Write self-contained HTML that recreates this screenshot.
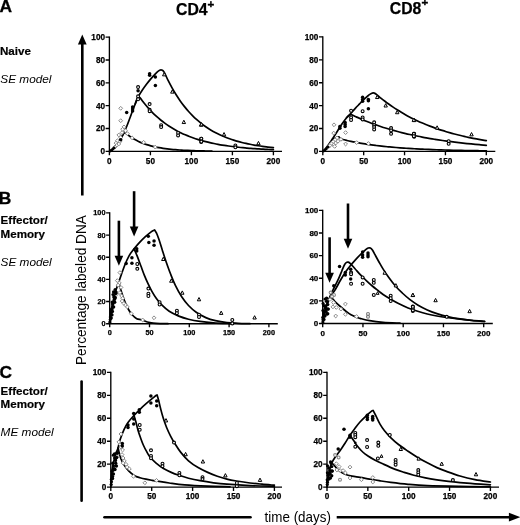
<!DOCTYPE html>
<html><head><meta charset="utf-8"><title>Figure</title>
<style>
html,body{margin:0;padding:0;background:#fff;}
body{width:520px;height:525px;overflow:hidden;font-family:"Liberation Sans",sans-serif;}
svg{display:block;will-change:transform;transform:translateZ(0);}
text{font-family:"Liberation Sans",sans-serif;fill:#000;}
.tl{font-weight:bold;stroke:#000;stroke-width:0.25px;}
.pl{font-size:17.4px;font-weight:bold;stroke:#000;stroke-width:0.3px;}
.rl{font-size:11.6px;font-weight:bold;stroke:#000;stroke-width:0.2px;}
.ml{font-size:11.8px;font-style:italic;}
.ct{font-size:15.8px;font-weight:bold;stroke:#000;stroke-width:0.25px;}
.al{font-size:14.2px;}
</style></head><body>
<svg width="520" height="525" viewBox="0 0 520 525">
<rect width="520" height="525" fill="#fff"/>
<text x="-0.5" y="12.4" class="pl">A</text>
<text x="-1.2" y="203.6" class="pl">B</text>
<text x="-0.6" y="378.4" class="pl">C</text>
<text x="0" y="55.1" class="rl">Naive</text>
<text x="0.3" y="83.4" class="ml">SE model</text>
<text x="0.6" y="224.0" class="rl">Effector/</text>
<text x="0.6" y="237.8" class="rl">Memory</text>
<text x="0.6" y="265.9" class="ml">SE model</text>
<text x="0.6" y="394.5" class="rl">Effector/</text>
<text x="0.6" y="408.2" class="rl">Memory</text>
<text x="0.6" y="436.4" class="ml">ME model</text>
<text x="176" y="14.9" class="ct">CD4<tspan dy="-7.0" font-size="11.5" stroke="#000" stroke-width="0.35">+</tspan></text>
<text x="389.8" y="13.8" class="ct">CD8<tspan dy="-7.9" font-size="11.5" stroke="#000" stroke-width="0.35">+</tspan></text>
<text transform="translate(85.8 365.0) rotate(-90)" class="al" textLength="149.8" lengthAdjust="spacingAndGlyphs">Percentage labeled DNA</text>
<text x="264.6" y="522" class="al" textLength="66.3" lengthAdjust="spacingAndGlyphs">time (days)</text>
<path d="M82.3 43 V195.5" stroke="#000" stroke-width="2.6" fill="none"/>
<path d="M77.9 44.6 L86.7 44.6 L82.3 34.4 Z" fill="#000"/>
<path d="M81.6 381.5 V500.8" stroke="#000" stroke-width="2.6" fill="none" stroke-linecap="round"/>
<path d="M104.5 517.3 H250.5" stroke="#000" stroke-width="2.6" fill="none" stroke-linecap="round"/>
<path d="M336.7 517.2 H510" stroke="#000" stroke-width="2.6" fill="none"/>
<path d="M508.9 512.8 L508.9 521.6 L520.2 517.2 Z" fill="#000"/>
<path d="M109.40 36.43 V151.40 H282.00" fill="none" stroke="#000" stroke-width="1.35" stroke-linejoin="miter"/>
<path d="M105.60 151.40 H109.40M105.60 128.54 H109.40M105.60 105.68 H109.40M105.60 82.82 H109.40M105.60 59.96 H109.40M105.60 37.10 H109.40M109.40 151.40 V155.20M150.40 151.40 V155.20M191.40 151.40 V155.20M232.40 151.40 V155.20M273.40 151.40 V155.20" fill="none" stroke="#000" stroke-width="1.35"/>
<text x="105.00" y="154.30" text-anchor="end" class="tl" font-size="8.20">0</text>
<text x="105.00" y="131.44" text-anchor="end" class="tl" font-size="8.20">20</text>
<text x="105.00" y="108.58" text-anchor="end" class="tl" font-size="8.20">40</text>
<text x="105.00" y="85.72" text-anchor="end" class="tl" font-size="8.20">60</text>
<text x="105.00" y="62.86" text-anchor="end" class="tl" font-size="8.20">80</text>
<text x="105.00" y="40.00" text-anchor="end" class="tl" font-size="8.20">100</text>
<text x="109.40" y="163.70" text-anchor="middle" class="tl" font-size="8.20">0</text>
<text x="150.40" y="163.70" text-anchor="middle" class="tl" font-size="8.20">50</text>
<text x="191.40" y="163.70" text-anchor="middle" class="tl" font-size="8.20">100</text>
<text x="232.40" y="163.70" text-anchor="middle" class="tl" font-size="8.20">150</text>
<text x="273.40" y="163.70" text-anchor="middle" class="tl" font-size="8.20">200</text>
<path d="M322.80 36.23 V151.40 H495.30" fill="none" stroke="#000" stroke-width="1.35" stroke-linejoin="miter"/>
<path d="M319.00 151.40 H322.80M319.00 128.50 H322.80M319.00 105.60 H322.80M319.00 82.70 H322.80M319.00 59.80 H322.80M319.00 36.90 H322.80M322.80 151.40 V155.20M363.68 151.40 V155.20M404.55 151.40 V155.20M445.43 151.40 V155.20M486.30 151.40 V155.20" fill="none" stroke="#000" stroke-width="1.35"/>
<text x="318.40" y="154.30" text-anchor="end" class="tl" font-size="8.20">0</text>
<text x="318.40" y="131.40" text-anchor="end" class="tl" font-size="8.20">20</text>
<text x="318.40" y="108.50" text-anchor="end" class="tl" font-size="8.20">40</text>
<text x="318.40" y="85.60" text-anchor="end" class="tl" font-size="8.20">60</text>
<text x="318.40" y="62.70" text-anchor="end" class="tl" font-size="8.20">80</text>
<text x="318.40" y="39.80" text-anchor="end" class="tl" font-size="8.20">100</text>
<text x="322.80" y="163.70" text-anchor="middle" class="tl" font-size="8.20">0</text>
<text x="363.68" y="163.70" text-anchor="middle" class="tl" font-size="8.20">50</text>
<text x="404.55" y="163.70" text-anchor="middle" class="tl" font-size="8.20">100</text>
<text x="445.43" y="163.70" text-anchor="middle" class="tl" font-size="8.20">150</text>
<text x="486.30" y="163.70" text-anchor="middle" class="tl" font-size="8.20">200</text>
<path d="M109.70 212.22 V323.70 H277.80" fill="none" stroke="#000" stroke-width="1.35" stroke-linejoin="miter"/>
<path d="M106.10 323.70 H109.70M106.10 301.54 H109.70M106.10 279.38 H109.70M106.10 257.22 H109.70M106.10 235.06 H109.70M106.10 212.90 H109.70M109.70 323.70 V327.30M149.50 323.70 V327.30M189.30 323.70 V327.30M229.10 323.70 V327.30M268.90 323.70 V327.30" fill="none" stroke="#000" stroke-width="1.35"/>
<text x="105.50" y="326.28" text-anchor="end" class="tl" font-size="7.30">0</text>
<text x="105.50" y="304.12" text-anchor="end" class="tl" font-size="7.30">20</text>
<text x="105.50" y="281.96" text-anchor="end" class="tl" font-size="7.30">40</text>
<text x="105.50" y="259.80" text-anchor="end" class="tl" font-size="7.30">60</text>
<text x="105.50" y="237.64" text-anchor="end" class="tl" font-size="7.30">80</text>
<text x="105.50" y="215.48" text-anchor="end" class="tl" font-size="7.30">100</text>
<text x="109.70" y="335.36" text-anchor="middle" class="tl" font-size="7.30">0</text>
<text x="149.50" y="335.36" text-anchor="middle" class="tl" font-size="7.30">50</text>
<text x="189.30" y="335.36" text-anchor="middle" class="tl" font-size="7.30">100</text>
<text x="229.10" y="335.36" text-anchor="middle" class="tl" font-size="7.30">150</text>
<text x="268.90" y="335.36" text-anchor="middle" class="tl" font-size="7.30">200</text>
<path d="M322.70 209.72 V323.50 H492.80" fill="none" stroke="#000" stroke-width="1.35" stroke-linejoin="miter"/>
<path d="M318.90 323.50 H322.70M318.90 300.88 H322.70M318.90 278.26 H322.70M318.90 255.64 H322.70M318.90 233.02 H322.70M318.90 210.40 H322.70M322.70 323.50 V327.30M362.95 323.50 V327.30M403.20 323.50 V327.30M443.45 323.50 V327.30M483.70 323.50 V327.30" fill="none" stroke="#000" stroke-width="1.35"/>
<text x="318.30" y="326.33" text-anchor="end" class="tl" font-size="8.00">0</text>
<text x="318.30" y="303.71" text-anchor="end" class="tl" font-size="8.00">20</text>
<text x="318.30" y="281.09" text-anchor="end" class="tl" font-size="8.00">40</text>
<text x="318.30" y="258.47" text-anchor="end" class="tl" font-size="8.00">60</text>
<text x="318.30" y="235.85" text-anchor="end" class="tl" font-size="8.00">80</text>
<text x="318.30" y="213.23" text-anchor="end" class="tl" font-size="8.00">100</text>
<text x="322.70" y="335.66" text-anchor="middle" class="tl" font-size="8.00">0</text>
<text x="362.95" y="335.66" text-anchor="middle" class="tl" font-size="8.00">50</text>
<text x="403.20" y="335.66" text-anchor="middle" class="tl" font-size="8.00">100</text>
<text x="443.45" y="335.66" text-anchor="middle" class="tl" font-size="8.00">150</text>
<text x="483.70" y="335.66" text-anchor="middle" class="tl" font-size="8.00">200</text>
<path d="M110.80 371.73 V487.10 H282.00" fill="none" stroke="#000" stroke-width="1.35" stroke-linejoin="miter"/>
<path d="M107.00 487.10 H110.80M107.00 464.16 H110.80M107.00 441.22 H110.80M107.00 418.28 H110.80M107.00 395.34 H110.80M107.00 372.40 H110.80M110.80 487.10 V490.90M151.70 487.10 V490.90M192.60 487.10 V490.90M233.50 487.10 V490.90M274.40 487.10 V490.90" fill="none" stroke="#000" stroke-width="1.35"/>
<text x="106.40" y="490.00" text-anchor="end" class="tl" font-size="8.20">0</text>
<text x="106.40" y="467.06" text-anchor="end" class="tl" font-size="8.20">20</text>
<text x="106.40" y="444.12" text-anchor="end" class="tl" font-size="8.20">40</text>
<text x="106.40" y="421.18" text-anchor="end" class="tl" font-size="8.20">60</text>
<text x="106.40" y="398.24" text-anchor="end" class="tl" font-size="8.20">80</text>
<text x="106.40" y="375.30" text-anchor="end" class="tl" font-size="8.20">100</text>
<text x="110.80" y="499.40" text-anchor="middle" class="tl" font-size="8.20">0</text>
<text x="151.70" y="499.40" text-anchor="middle" class="tl" font-size="8.20">50</text>
<text x="192.60" y="499.40" text-anchor="middle" class="tl" font-size="8.20">100</text>
<text x="233.50" y="499.40" text-anchor="middle" class="tl" font-size="8.20">150</text>
<text x="274.40" y="499.40" text-anchor="middle" class="tl" font-size="8.20">200</text>
<path d="M327.00 371.73 V487.10 H499.00" fill="none" stroke="#000" stroke-width="1.35" stroke-linejoin="miter"/>
<path d="M323.20 487.10 H327.00M323.20 464.16 H327.00M323.20 441.22 H327.00M323.20 418.28 H327.00M323.20 395.34 H327.00M323.20 372.40 H327.00M327.00 487.10 V490.90M367.85 487.10 V490.90M408.70 487.10 V490.90M449.55 487.10 V490.90M490.40 487.10 V490.90" fill="none" stroke="#000" stroke-width="1.35"/>
<text x="322.60" y="490.00" text-anchor="end" class="tl" font-size="8.20">0</text>
<text x="322.60" y="467.06" text-anchor="end" class="tl" font-size="8.20">20</text>
<text x="322.60" y="444.12" text-anchor="end" class="tl" font-size="8.20">40</text>
<text x="322.60" y="421.18" text-anchor="end" class="tl" font-size="8.20">60</text>
<text x="322.60" y="398.24" text-anchor="end" class="tl" font-size="8.20">80</text>
<text x="322.60" y="375.30" text-anchor="end" class="tl" font-size="8.20">100</text>
<text x="327.00" y="499.40" text-anchor="middle" class="tl" font-size="8.20">0</text>
<text x="367.85" y="499.40" text-anchor="middle" class="tl" font-size="8.20">50</text>
<text x="408.70" y="499.40" text-anchor="middle" class="tl" font-size="8.20">100</text>
<text x="449.55" y="499.40" text-anchor="middle" class="tl" font-size="8.20">150</text>
<text x="490.40" y="499.40" text-anchor="middle" class="tl" font-size="8.20">200</text>
<path d="M118.90 220.70 V256.80" stroke="#000" stroke-width="2.60" fill="none"/>
<path d="M114.60 255.80 L123.20 255.80 L118.90 265.80 Z" fill="#000"/>
<path d="M134.10 191.20 V227.50" stroke="#000" stroke-width="2.60" fill="none"/>
<path d="M129.80 226.50 L138.40 226.50 L134.10 236.50 Z" fill="#000"/>
<path d="M329.60 237.30 V273.80" stroke="#000" stroke-width="2.60" fill="none"/>
<path d="M325.30 272.80 L333.90 272.80 L329.60 282.80 Z" fill="#000"/>
<path d="M348.00 203.50 V239.80" stroke="#000" stroke-width="2.60" fill="none"/>
<path d="M343.70 238.80 L352.30 238.80 L348.00 248.80 Z" fill="#000"/>
<path d="M109.40 151.40 C109.67 151.23 110.51 150.79 111.04 150.37 C111.57 149.95 112.05 149.42 112.60 148.89 C113.14 148.35 113.69 147.86 114.32 147.17 C114.95 146.49 115.62 145.70 116.37 144.77 C117.12 143.84 118.02 142.68 118.83 141.57 C119.64 140.47 120.35 139.63 121.21 138.14 C122.07 136.66 123.05 134.67 124.00 132.65 C124.94 130.64 125.90 128.43 126.87 126.03 C127.84 123.63 128.86 120.81 129.82 118.25 C130.77 115.70 131.70 113.09 132.61 110.71 C133.51 108.33 134.23 106.38 135.23 103.97 C136.23 101.55 137.43 98.48 138.59 96.19 C139.75 93.91 140.92 92.19 142.20 90.25 C143.48 88.31 144.93 86.34 146.30 84.53 C147.67 82.72 149.03 81.01 150.40 79.39 C151.77 77.77 153.34 76.08 154.50 74.82 C155.66 73.56 156.51 72.61 157.37 71.85 C158.23 71.09 158.97 70.55 159.67 70.25 C160.36 69.94 160.83 69.75 161.55 70.02 C162.28 70.29 162.92 70.10 164.01 71.85 C165.11 73.59 166.75 77.77 168.11 80.49 C169.48 83.21 170.85 85.76 172.21 88.19 C173.58 90.62 174.95 92.89 176.31 95.06 C177.68 97.22 179.05 99.25 180.41 101.18 C181.78 103.11 183.15 104.92 184.51 106.64 C185.88 108.36 187.25 109.97 188.61 111.50 C189.98 113.03 191.35 114.47 192.71 115.83 C194.08 117.20 195.45 118.48 196.81 119.70 C198.18 120.91 199.55 122.06 200.91 123.14 C202.28 124.23 203.65 125.24 205.01 126.21 C206.38 127.18 207.75 128.08 209.11 128.95 C210.48 129.81 211.85 130.62 213.21 131.39 C214.58 132.16 215.95 132.88 217.31 133.56 C218.68 134.25 220.05 134.89 221.41 135.50 C222.78 136.11 224.15 136.68 225.51 137.23 C226.88 137.77 228.25 138.28 229.61 138.77 C230.98 139.25 232.35 139.71 233.71 140.14 C235.08 140.57 236.45 140.98 237.81 141.36 C239.18 141.75 240.55 142.11 241.91 142.45 C243.28 142.80 244.65 143.12 246.01 143.42 C247.38 143.73 248.75 144.02 250.11 144.29 C251.48 144.56 252.85 144.82 254.21 145.06 C255.58 145.31 256.95 145.53 258.31 145.75 C259.68 145.97 261.05 146.17 262.41 146.36 C263.78 146.56 265.15 146.74 266.51 146.91 C267.88 147.08 269.46 147.27 270.61 147.40 C271.76 147.53 272.94 147.65 273.40 147.70" fill="none" stroke="#000" stroke-width="1.70" stroke-linejoin="round" stroke-linecap="round"/>
<path d="M135.23 103.97 C135.57 102.99 136.69 99.26 137.28 98.14 C137.87 97.01 138.28 97.26 138.76 97.22 C139.23 97.18 139.23 96.89 140.15 97.91 C141.07 98.92 142.88 101.60 144.25 103.31 C145.62 105.02 146.98 106.63 148.35 108.17 C149.72 109.71 151.08 111.15 152.45 112.54 C153.82 113.92 155.18 115.22 156.55 116.46 C157.92 117.71 159.28 118.88 160.65 119.99 C162.02 121.11 163.38 122.16 164.75 123.17 C166.12 124.17 167.48 125.12 168.85 126.02 C170.22 126.92 171.58 127.77 172.95 128.58 C174.32 129.39 175.68 130.16 177.05 130.89 C178.42 131.62 179.78 132.30 181.15 132.96 C182.52 133.62 183.88 134.23 185.25 134.82 C186.62 135.41 187.98 135.97 189.35 136.50 C190.72 137.03 192.08 137.53 193.45 138.00 C194.82 138.48 196.18 138.93 197.55 139.36 C198.92 139.78 200.28 140.19 201.65 140.57 C203.02 140.96 204.38 141.32 205.75 141.67 C207.12 142.01 208.48 142.34 209.85 142.65 C211.22 142.96 212.58 143.25 213.95 143.53 C215.32 143.81 216.68 144.08 218.05 144.33 C219.42 144.58 220.78 144.82 222.15 145.04 C223.52 145.27 224.88 145.48 226.25 145.69 C227.62 145.89 228.98 146.08 230.35 146.26 C231.72 146.45 233.08 146.62 234.45 146.78 C235.82 146.95 237.18 147.10 238.55 147.25 C239.92 147.40 241.28 147.53 242.65 147.67 C244.02 147.80 245.38 147.93 246.75 148.04 C248.12 148.16 249.48 148.28 250.85 148.38 C252.22 148.49 253.58 148.59 254.95 148.69 C256.32 148.78 257.68 148.88 259.05 148.96 C260.42 149.05 261.78 149.13 263.15 149.21 C264.52 149.29 265.88 149.36 267.25 149.43 C268.62 149.50 270.33 149.58 271.35 149.63 C272.38 149.68 273.06 149.71 273.40 149.72" fill="none" stroke="#000" stroke-width="1.70" stroke-linejoin="round" stroke-linecap="round"/>
<path d="M121.21 138.14 C121.51 137.49 122.47 135.13 123.01 134.25 C123.56 133.38 123.95 133.00 124.49 132.88 C125.02 132.77 125.24 132.93 126.21 133.57 C127.18 134.21 128.94 135.77 130.31 136.73 C131.68 137.69 133.04 138.54 134.41 139.33 C135.78 140.12 137.14 140.82 138.51 141.47 C139.88 142.12 141.24 142.69 142.61 143.23 C143.98 143.76 145.34 144.23 146.71 144.67 C148.08 145.11 149.44 145.50 150.81 145.87 C152.18 146.23 153.54 146.55 154.91 146.85 C156.28 147.14 157.64 147.41 159.01 147.65 C160.38 147.90 161.74 148.12 163.11 148.32 C164.48 148.52 165.84 148.70 167.21 148.86 C168.58 149.03 169.94 149.18 171.31 149.31 C172.68 149.45 174.04 149.57 175.41 149.68 C176.78 149.79 178.14 149.89 179.51 149.99 C180.88 150.08 182.24 150.16 183.61 150.24 C184.98 150.31 186.34 150.38 187.71 150.44 C189.08 150.51 190.44 150.56 191.81 150.61 C193.18 150.66 194.54 150.71 195.91 150.75 C197.28 150.79 198.64 150.83 200.01 150.87 C201.38 150.90 202.74 150.93 204.11 150.96 C205.48 150.99 206.91 151.02 208.21 151.04 C209.51 151.06 211.28 151.09 211.90 151.10" fill="none" stroke="#000" stroke-width="1.70" stroke-linejoin="round" stroke-linecap="round"/>
<path d="M120.70 106.40 L122.60 108.30 L120.70 110.20 L118.80 108.30 Z" fill="#fff" stroke="#8a8a8a" stroke-width="1.0"/>
<path d="M120.70 118.80 L122.60 120.70 L120.70 122.60 L118.80 120.70 Z" fill="#fff" stroke="#8a8a8a" stroke-width="1.0"/>
<path d="M124.00 125.00 L125.90 126.90 L124.00 128.80 L122.10 126.90 Z" fill="#fff" stroke="#8a8a8a" stroke-width="1.0"/>
<path d="M122.60 127.40 L124.50 129.30 L122.60 131.20 L120.70 129.30 Z" fill="#fff" stroke="#8a8a8a" stroke-width="1.0"/>
<path d="M125.50 128.80 L127.40 130.70 L125.50 132.60 L123.60 130.70 Z" fill="#fff" stroke="#8a8a8a" stroke-width="1.0"/>
<path d="M122.10 130.70 L124.00 132.60 L122.10 134.50 L120.20 132.60 Z" fill="#fff" stroke="#8a8a8a" stroke-width="1.0"/>
<path d="M127.40 131.70 L129.30 133.60 L127.40 135.50 L125.50 133.60 Z" fill="#fff" stroke="#8a8a8a" stroke-width="1.0"/>
<path d="M118.80 133.10 L120.70 135.00 L118.80 136.90 L116.90 135.00 Z" fill="#fff" stroke="#8a8a8a" stroke-width="1.0"/>
<path d="M120.70 135.50 L122.60 137.40 L120.70 139.30 L118.80 137.40 Z" fill="#fff" stroke="#8a8a8a" stroke-width="1.0"/>
<path d="M132.10 136.00 L134.00 137.90 L132.10 139.80 L130.20 137.90 Z" fill="#fff" stroke="#8a8a8a" stroke-width="1.0"/>
<path d="M117.40 138.80 L119.30 140.70 L117.40 142.60 L115.50 140.70 Z" fill="#fff" stroke="#8a8a8a" stroke-width="1.0"/>
<path d="M119.80 139.80 L121.70 141.70 L119.80 143.60 L117.90 141.70 Z" fill="#fff" stroke="#8a8a8a" stroke-width="1.0"/>
<path d="M116.00 141.20 L117.90 143.10 L116.00 145.00 L114.10 143.10 Z" fill="#fff" stroke="#8a8a8a" stroke-width="1.0"/>
<path d="M118.80 142.10 L120.70 144.00 L118.80 145.90 L116.90 144.00 Z" fill="#fff" stroke="#8a8a8a" stroke-width="1.0"/>
<path d="M116.40 143.60 L118.30 145.50 L116.40 147.40 L114.50 145.50 Z" fill="#fff" stroke="#8a8a8a" stroke-width="1.0"/>
<path d="M115.00 145.00 L116.90 146.90 L115.00 148.80 L113.10 146.90 Z" fill="#fff" stroke="#8a8a8a" stroke-width="1.0"/>
<path d="M143.60 140.40 L145.50 142.30 L143.60 144.20 L141.70 142.30 Z" fill="#fff" stroke="#8a8a8a" stroke-width="1.0"/>
<path d="M155.20 145.20 L157.10 147.10 L155.20 149.00 L153.30 147.10 Z" fill="#fff" stroke="#8a8a8a" stroke-width="1.0"/>
<circle cx="126.70" cy="112.60" r="1.75" fill="#000"/>
<circle cx="132.60" cy="106.90" r="1.75" fill="#000"/>
<circle cx="132.60" cy="109.00" r="1.75" fill="#000"/>
<circle cx="132.60" cy="110.90" r="1.75" fill="#000"/>
<circle cx="120.70" cy="139.80" r="1.75" fill="#000"/>
<circle cx="149.62" cy="73.65" r="1.75" fill="#000"/>
<circle cx="149.62" cy="75.19" r="1.75" fill="#000"/>
<circle cx="155.38" cy="77.12" r="1.75" fill="#000"/>
<circle cx="155.38" cy="85.38" r="1.75" fill="#000"/>
<circle cx="138.08" cy="90.77" r="1.75" fill="#000"/>
<circle cx="110.30" cy="151.00" r="1.40" fill="#000"/>
<circle cx="111.60" cy="150.20" r="1.40" fill="#000"/>
<circle cx="113.00" cy="149.00" r="1.40" fill="#000"/>
<circle cx="114.20" cy="147.90" r="1.40" fill="#000"/>
<circle cx="138.08" cy="87.12" r="1.45" fill="#fff" stroke="#000" stroke-width="1.1"/>
<circle cx="138.08" cy="96.35" r="1.45" fill="#fff" stroke="#000" stroke-width="1.1"/>
<circle cx="138.08" cy="99.23" r="1.45" fill="#fff" stroke="#000" stroke-width="1.1"/>
<circle cx="149.62" cy="104.04" r="1.45" fill="#fff" stroke="#000" stroke-width="1.1"/>
<circle cx="149.62" cy="109.81" r="1.45" fill="#fff" stroke="#000" stroke-width="1.1"/>
<circle cx="149.62" cy="111.15" r="1.45" fill="#fff" stroke="#000" stroke-width="1.1"/>
<circle cx="161.15" cy="125.19" r="1.45" fill="#fff" stroke="#000" stroke-width="1.1"/>
<circle cx="161.15" cy="127.12" r="1.45" fill="#fff" stroke="#000" stroke-width="1.1"/>
<circle cx="178.08" cy="132.88" r="1.45" fill="#fff" stroke="#000" stroke-width="1.1"/>
<circle cx="178.08" cy="135.38" r="1.45" fill="#fff" stroke="#000" stroke-width="1.1"/>
<circle cx="201.15" cy="138.65" r="1.45" fill="#fff" stroke="#000" stroke-width="1.1"/>
<circle cx="201.15" cy="141.92" r="1.45" fill="#fff" stroke="#000" stroke-width="1.1"/>
<circle cx="201.35" cy="138.65" r="1.45" fill="#fff" stroke="#000" stroke-width="1.1"/>
<circle cx="201.35" cy="141.54" r="1.45" fill="#fff" stroke="#000" stroke-width="1.1"/>
<circle cx="235.38" cy="145.38" r="1.45" fill="#fff" stroke="#000" stroke-width="1.1"/>
<circle cx="235.38" cy="147.31" r="1.45" fill="#fff" stroke="#000" stroke-width="1.1"/>
<path d="M164.23 72.53 L165.93 75.85 L162.53 75.85 Z" fill="#fff" stroke="#000" stroke-width="1.0" stroke-linejoin="miter"/>
<path d="M172.31 89.84 L174.01 93.15 L170.61 93.15 Z" fill="#fff" stroke="#000" stroke-width="1.0" stroke-linejoin="miter"/>
<path d="M183.85 120.22 L185.55 123.54 L182.15 123.54 Z" fill="#fff" stroke="#000" stroke-width="1.0" stroke-linejoin="miter"/>
<path d="M201.15 122.92 L202.85 126.23 L199.45 126.23 Z" fill="#fff" stroke="#000" stroke-width="1.0" stroke-linejoin="miter"/>
<path d="M201.35 122.53 L203.05 125.85 L199.65 125.85 Z" fill="#fff" stroke="#000" stroke-width="1.0" stroke-linejoin="miter"/>
<path d="M224.04 132.53 L225.74 135.85 L222.34 135.85 Z" fill="#fff" stroke="#000" stroke-width="1.0" stroke-linejoin="miter"/>
<path d="M258.46 141.38 L260.16 144.69 L256.76 144.69 Z" fill="#fff" stroke="#000" stroke-width="1.0" stroke-linejoin="miter"/>
<path d="M322.80 151.40 C323.14 151.09 324.05 150.46 324.84 149.57 C325.63 148.67 326.30 147.74 327.54 146.02 C328.78 144.30 330.70 141.65 332.28 139.26 C333.86 136.88 335.44 134.21 337.02 131.71 C338.61 129.21 340.17 126.59 341.77 124.26 C343.36 121.94 345.19 119.44 346.59 117.74 C347.99 116.04 348.70 115.68 350.19 114.07 C351.67 112.47 353.93 109.82 355.50 108.12 C357.07 106.42 358.23 105.29 359.59 103.88 C360.95 102.47 362.31 100.96 363.68 99.65 C365.04 98.33 366.67 96.90 367.76 95.98 C368.85 95.07 369.47 94.63 370.22 94.15 C370.96 93.67 371.58 93.29 372.26 93.12 C372.94 92.95 373.55 92.87 374.30 93.12 C375.05 93.37 375.66 93.79 376.75 94.61 C377.85 95.43 379.48 96.93 380.84 98.04 C382.21 99.14 383.57 100.22 384.93 101.26 C386.29 102.30 387.66 103.30 389.02 104.28 C390.38 105.26 391.74 106.21 393.11 107.13 C394.47 108.05 395.83 108.93 397.19 109.80 C398.56 110.66 399.92 111.50 401.28 112.31 C402.64 113.12 404.00 113.91 405.37 114.67 C406.73 115.43 408.09 116.17 409.46 116.88 C410.82 117.60 412.18 118.29 413.54 118.97 C414.91 119.64 416.27 120.29 417.63 120.93 C418.99 121.56 420.36 122.17 421.72 122.76 C423.08 123.36 424.44 123.93 425.81 124.49 C427.17 125.05 428.53 125.59 429.89 126.12 C431.26 126.64 432.62 127.15 433.98 127.64 C435.34 128.14 436.70 128.61 438.07 129.08 C439.43 129.54 440.79 129.99 442.16 130.42 C443.52 130.86 444.88 131.28 446.24 131.69 C447.61 132.10 448.97 132.49 450.33 132.88 C451.69 133.26 453.06 133.64 454.42 134.00 C455.78 134.36 457.14 134.71 458.50 135.05 C459.87 135.39 461.23 135.72 462.59 136.03 C463.95 136.35 465.32 136.66 466.68 136.96 C468.04 137.26 469.41 137.55 470.77 137.83 C472.13 138.11 473.49 138.39 474.86 138.65 C476.22 138.92 477.58 139.17 478.94 139.42 C480.31 139.67 481.80 139.93 483.03 140.14 C484.26 140.36 485.75 140.60 486.30 140.69" fill="none" stroke="#000" stroke-width="1.70" stroke-linejoin="round" stroke-linecap="round"/>
<path d="M346.59 117.74 C347.05 117.32 348.65 115.75 349.37 115.22 C350.09 114.68 350.38 114.53 350.92 114.53 C351.47 114.53 351.67 114.78 352.64 115.22 C353.61 115.65 355.36 116.51 356.73 117.14 C358.09 117.76 359.45 118.36 360.81 118.95 C362.18 119.54 363.54 120.12 364.90 120.68 C366.26 121.23 367.63 121.78 368.99 122.31 C370.35 122.83 371.71 123.35 373.08 123.85 C374.44 124.35 375.80 124.84 377.16 125.31 C378.53 125.78 379.89 126.24 381.25 126.69 C382.61 127.14 383.98 127.58 385.34 128.00 C386.70 128.43 388.06 128.84 389.43 129.25 C390.79 129.65 392.15 130.04 393.51 130.42 C394.88 130.80 396.24 131.17 397.60 131.53 C398.96 131.89 400.33 132.24 401.69 132.59 C403.05 132.93 404.41 133.26 405.78 133.58 C407.14 133.91 408.50 134.22 409.86 134.53 C411.23 134.84 412.59 135.13 413.95 135.42 C415.31 135.71 416.68 136.00 418.04 136.27 C419.40 136.55 420.76 136.81 422.13 137.07 C423.49 137.33 424.85 137.59 426.21 137.83 C427.58 138.08 428.94 138.32 430.30 138.55 C431.66 138.79 433.03 139.01 434.39 139.24 C435.75 139.46 437.11 139.67 438.48 139.88 C439.84 140.09 441.20 140.29 442.56 140.49 C443.93 140.69 445.29 140.88 446.65 141.07 C448.01 141.26 449.38 141.44 450.74 141.62 C452.10 141.80 453.46 141.97 454.83 142.14 C456.19 142.31 457.55 142.47 458.91 142.63 C460.28 142.79 461.64 142.94 463.00 143.09 C464.36 143.24 465.73 143.39 467.09 143.53 C468.45 143.68 469.81 143.82 471.18 143.95 C472.54 144.09 473.90 144.22 475.26 144.35 C476.63 144.47 477.99 144.60 479.35 144.72 C480.71 144.84 482.28 144.98 483.44 145.07 C484.60 145.17 485.82 145.27 486.30 145.31" fill="none" stroke="#000" stroke-width="1.70" stroke-linejoin="round" stroke-linecap="round"/>
<path d="M332.28 139.26 C333.29 138.88 337.12 137.24 338.33 136.97 C339.55 136.71 339.11 137.35 339.56 137.66 C340.01 137.97 340.49 138.50 341.03 138.81 C341.58 139.11 341.85 139.21 342.83 139.49 C343.81 139.77 345.55 140.16 346.92 140.47 C348.28 140.79 349.64 141.09 351.00 141.37 C352.37 141.66 353.73 141.94 355.09 142.20 C356.45 142.46 357.82 142.72 359.18 142.96 C360.54 143.20 361.90 143.43 363.27 143.65 C364.63 143.88 365.99 144.09 367.35 144.29 C368.72 144.50 370.08 144.69 371.44 144.88 C372.80 145.07 374.17 145.24 375.53 145.42 C376.89 145.59 378.25 145.75 379.62 145.91 C380.98 146.07 382.34 146.22 383.70 146.36 C385.07 146.51 386.43 146.64 387.79 146.78 C389.15 146.91 390.52 147.04 391.88 147.16 C393.24 147.28 394.60 147.40 395.97 147.51 C397.33 147.62 398.69 147.73 400.05 147.83 C401.42 147.93 402.78 148.03 404.14 148.12 C405.50 148.22 406.87 148.31 408.23 148.39 C409.59 148.48 410.95 148.56 412.32 148.64 C413.68 148.72 415.04 148.79 416.40 148.87 C417.77 148.94 419.13 149.01 420.49 149.08 C421.85 149.14 423.22 149.21 424.58 149.27 C425.94 149.33 427.30 149.39 428.67 149.44 C430.03 149.50 431.39 149.55 432.75 149.60 C434.12 149.66 435.48 149.71 436.84 149.75 C438.20 149.80 439.57 149.84 440.93 149.89 C442.29 149.93 443.65 149.97 445.02 150.01 C446.38 150.05 447.74 150.09 449.10 150.13 C450.47 150.16 451.83 150.20 453.19 150.23 C454.55 150.27 455.92 150.30 457.28 150.33 C458.64 150.36 460.00 150.39 461.37 150.42 C462.73 150.44 464.09 150.47 465.45 150.50 C466.82 150.52 468.18 150.55 469.54 150.57 C470.90 150.60 472.27 150.62 473.63 150.64 C474.99 150.66 476.35 150.68 477.72 150.70 C479.08 150.72 480.44 150.74 481.80 150.76 C483.17 150.78 485.14 150.80 485.89 150.81 C486.64 150.82 486.23 150.82 486.30 150.82" fill="none" stroke="#000" stroke-width="1.70" stroke-linejoin="round" stroke-linecap="round"/>
<path d="M334.00 122.90 L335.90 124.80 L334.00 126.70 L332.10 124.80 Z" fill="#fff" stroke="#8a8a8a" stroke-width="1.0"/>
<path d="M333.70 131.20 L335.60 133.10 L333.70 135.00 L331.80 133.10 Z" fill="#fff" stroke="#8a8a8a" stroke-width="1.0"/>
<path d="M345.60 130.70 L347.50 132.60 L345.60 134.50 L343.70 132.60 Z" fill="#fff" stroke="#8a8a8a" stroke-width="1.0"/>
<path d="M337.00 136.00 L338.90 137.90 L337.00 139.80 L335.10 137.90 Z" fill="#fff" stroke="#8a8a8a" stroke-width="1.0"/>
<path d="M340.90 137.40 L342.80 139.30 L340.90 141.20 L339.00 139.30 Z" fill="#fff" stroke="#8a8a8a" stroke-width="1.0"/>
<path d="M335.10 137.90 L337.00 139.80 L335.10 141.70 L333.20 139.80 Z" fill="#fff" stroke="#8a8a8a" stroke-width="1.0"/>
<path d="M338.00 139.30 L339.90 141.20 L338.00 143.10 L336.10 141.20 Z" fill="#fff" stroke="#8a8a8a" stroke-width="1.0"/>
<path d="M333.20 139.80 L335.10 141.70 L333.20 143.60 L331.30 141.70 Z" fill="#fff" stroke="#8a8a8a" stroke-width="1.0"/>
<path d="M335.60 141.20 L337.50 143.10 L335.60 145.00 L333.70 143.10 Z" fill="#fff" stroke="#8a8a8a" stroke-width="1.0"/>
<path d="M331.30 141.70 L333.20 143.60 L331.30 145.50 L329.40 143.60 Z" fill="#fff" stroke="#8a8a8a" stroke-width="1.0"/>
<path d="M333.70 143.10 L335.60 145.00 L333.70 146.90 L331.80 145.00 Z" fill="#fff" stroke="#8a8a8a" stroke-width="1.0"/>
<path d="M329.90 143.60 L331.80 145.50 L329.90 147.40 L328.00 145.50 Z" fill="#fff" stroke="#8a8a8a" stroke-width="1.0"/>
<path d="M345.60 142.10 L347.50 144.00 L345.60 145.90 L343.70 144.00 Z" fill="#fff" stroke="#8a8a8a" stroke-width="1.0"/>
<path d="M334.70 144.50 L336.60 146.40 L334.70 148.30 L332.80 146.40 Z" fill="#fff" stroke="#8a8a8a" stroke-width="1.0"/>
<path d="M356.60 140.70 L358.50 142.60 L356.60 144.50 L354.70 142.60 Z" fill="#fff" stroke="#8a8a8a" stroke-width="1.0"/>
<path d="M368.40 141.60 L370.30 143.50 L368.40 145.40 L366.50 143.50 Z" fill="#fff" stroke="#8a8a8a" stroke-width="1.0"/>
<circle cx="339.90" cy="126.40" r="1.75" fill="#000"/>
<circle cx="339.90" cy="128.30" r="1.75" fill="#000"/>
<circle cx="345.10" cy="122.60" r="1.75" fill="#000"/>
<circle cx="345.10" cy="124.50" r="1.75" fill="#000"/>
<circle cx="345.10" cy="126.40" r="1.75" fill="#000"/>
<circle cx="362.62" cy="97.31" r="1.75" fill="#000"/>
<circle cx="362.62" cy="99.62" r="1.75" fill="#000"/>
<circle cx="362.62" cy="101.15" r="1.75" fill="#000"/>
<circle cx="368.38" cy="99.62" r="1.75" fill="#000"/>
<circle cx="368.38" cy="100.77" r="1.75" fill="#000"/>
<circle cx="368.38" cy="108.85" r="1.75" fill="#000"/>
<circle cx="323.60" cy="151.00" r="1.40" fill="#000"/>
<circle cx="325.00" cy="150.00" r="1.40" fill="#000"/>
<circle cx="326.40" cy="148.80" r="1.40" fill="#000"/>
<circle cx="328.00" cy="147.20" r="1.40" fill="#000"/>
<circle cx="351.08" cy="110.77" r="1.45" fill="#fff" stroke="#000" stroke-width="1.1"/>
<circle cx="351.08" cy="117.50" r="1.45" fill="#fff" stroke="#000" stroke-width="1.1"/>
<circle cx="351.08" cy="120.00" r="1.45" fill="#fff" stroke="#000" stroke-width="1.1"/>
<circle cx="362.62" cy="111.15" r="1.45" fill="#fff" stroke="#000" stroke-width="1.1"/>
<circle cx="362.62" cy="117.50" r="1.45" fill="#fff" stroke="#000" stroke-width="1.1"/>
<circle cx="362.62" cy="119.42" r="1.45" fill="#fff" stroke="#000" stroke-width="1.1"/>
<circle cx="374.15" cy="122.31" r="1.45" fill="#fff" stroke="#000" stroke-width="1.1"/>
<circle cx="374.15" cy="125.19" r="1.45" fill="#fff" stroke="#000" stroke-width="1.1"/>
<circle cx="374.15" cy="127.12" r="1.45" fill="#fff" stroke="#000" stroke-width="1.1"/>
<circle cx="374.15" cy="129.42" r="1.45" fill="#fff" stroke="#000" stroke-width="1.1"/>
<circle cx="391.08" cy="128.08" r="1.45" fill="#fff" stroke="#000" stroke-width="1.1"/>
<circle cx="391.08" cy="130.38" r="1.45" fill="#fff" stroke="#000" stroke-width="1.1"/>
<circle cx="391.08" cy="133.85" r="1.45" fill="#fff" stroke="#000" stroke-width="1.1"/>
<circle cx="414.15" cy="133.85" r="1.45" fill="#fff" stroke="#000" stroke-width="1.1"/>
<circle cx="414.15" cy="136.73" r="1.45" fill="#fff" stroke="#000" stroke-width="1.1"/>
<circle cx="413.85" cy="133.85" r="1.45" fill="#fff" stroke="#000" stroke-width="1.1"/>
<circle cx="413.85" cy="136.15" r="1.45" fill="#fff" stroke="#000" stroke-width="1.1"/>
<circle cx="448.65" cy="141.15" r="1.45" fill="#fff" stroke="#000" stroke-width="1.1"/>
<circle cx="448.65" cy="143.85" r="1.45" fill="#fff" stroke="#000" stroke-width="1.1"/>
<path d="M377.23 95.22 L378.93 98.54 L375.53 98.54 Z" fill="#fff" stroke="#000" stroke-width="1.0" stroke-linejoin="miter"/>
<path d="M385.69 103.68 L387.39 107.00 L383.99 107.00 Z" fill="#fff" stroke="#000" stroke-width="1.0" stroke-linejoin="miter"/>
<path d="M397.23 110.42 L398.93 113.73 L395.53 113.73 Z" fill="#fff" stroke="#000" stroke-width="1.0" stroke-linejoin="miter"/>
<path d="M414.15 118.30 L415.85 121.61 L412.45 121.61 Z" fill="#fff" stroke="#000" stroke-width="1.0" stroke-linejoin="miter"/>
<path d="M413.85 118.11 L415.55 121.42 L412.15 121.42 Z" fill="#fff" stroke="#000" stroke-width="1.0" stroke-linejoin="miter"/>
<path d="M437.12 125.80 L438.82 129.12 L435.42 129.12 Z" fill="#fff" stroke="#000" stroke-width="1.0" stroke-linejoin="miter"/>
<path d="M471.54 132.53 L473.24 135.85 L469.84 135.85 Z" fill="#fff" stroke="#000" stroke-width="1.0" stroke-linejoin="miter"/>
<path d="M109.42 323.58 C109.65 321.75 110.22 316.04 110.77 312.62 C111.31 309.19 111.89 306.53 112.69 303.00 C113.49 299.47 114.55 294.99 115.58 291.46 C116.60 287.94 117.40 286.01 118.85 281.85 C120.29 277.68 122.53 270.79 124.23 266.46 C125.93 262.13 127.44 258.77 129.04 255.88 C130.64 253.00 132.08 251.40 133.85 249.15 C135.61 246.91 137.69 244.51 139.62 242.42 C141.54 240.34 143.46 238.42 145.38 236.65 C147.31 234.89 149.62 232.97 151.15 231.85 C152.69 230.72 154.04 230.24 154.62 229.92 L156.60 233.20 C157.05 234.42 158.28 237.47 159.30 240.50 C160.32 243.53 161.57 247.87 162.70 251.40 C163.83 254.93 164.77 257.88 166.10 261.70 C167.43 265.52 169.13 270.32 170.70 274.30 C172.27 278.28 173.67 281.85 175.50 285.60 C177.33 289.35 179.53 293.48 181.70 296.80 C183.87 300.12 186.08 302.93 188.50 305.50 C190.92 308.07 193.32 310.18 196.20 312.20 C199.08 314.22 202.60 316.18 205.80 317.60 C209.00 319.02 211.88 319.87 215.40 320.70 C218.92 321.53 223.13 322.17 226.90 322.60 C230.67 323.03 234.15 323.12 238.00 323.30 C241.85 323.48 248.00 323.59 250.00 323.65" fill="none" stroke="#000" stroke-width="1.70" stroke-linejoin="round" stroke-linecap="round"/>
<path d="M133.80 249.20 C134.03 249.58 134.57 250.18 135.20 251.50 C135.83 252.82 136.63 254.63 137.60 257.10 C138.57 259.57 139.87 263.25 141.00 266.30 C142.13 269.35 143.25 272.55 144.40 275.40 C145.55 278.25 146.65 280.73 147.90 283.40 C149.15 286.07 150.48 288.87 151.90 291.40 C153.32 293.93 154.80 296.38 156.40 298.60 C158.00 300.82 159.37 302.58 161.50 304.70 C163.63 306.82 166.32 309.40 169.20 311.30 C172.08 313.20 175.58 314.78 178.80 316.10 C182.02 317.42 184.97 318.32 188.50 319.20 C192.03 320.08 195.83 320.80 200.00 321.40 C204.17 322.00 208.37 322.43 213.50 322.80 C218.63 323.17 227.92 323.47 230.80 323.60" fill="none" stroke="#000" stroke-width="1.70" stroke-linejoin="round" stroke-linecap="round"/>
<path d="M118.85 281.85 C119.04 282.65 119.58 285.05 120.00 286.65 C120.42 288.26 120.64 289.22 121.35 291.46 C122.05 293.71 123.11 297.23 124.23 300.12 C125.35 303.00 126.79 306.37 128.08 308.77 C129.36 311.17 130.48 312.87 131.92 314.54 C133.37 316.21 135.13 317.89 136.73 318.77 C138.33 319.65 139.74 319.26 141.50 319.80 C143.26 320.34 145.37 321.45 147.30 322.00 C149.23 322.55 150.98 322.83 153.10 323.10 C155.22 323.37 157.52 323.50 160.00 323.60 C162.48 323.70 166.67 323.68 168.00 323.70" fill="none" stroke="#000" stroke-width="1.70" stroke-linejoin="round" stroke-linecap="round"/>
<path d="M119.90 270.70 L121.80 272.60 L119.90 274.50 L118.00 272.60 Z" fill="#fff" stroke="#8a8a8a" stroke-width="1.0"/>
<path d="M117.30 278.70 L119.20 280.60 L117.30 282.50 L115.40 280.60 Z" fill="#fff" stroke="#8a8a8a" stroke-width="1.0"/>
<path d="M119.30 281.00 L121.20 282.90 L119.30 284.80 L117.40 282.90 Z" fill="#fff" stroke="#8a8a8a" stroke-width="1.0"/>
<path d="M118.10 283.20 L120.00 285.10 L118.10 287.00 L116.20 285.10 Z" fill="#fff" stroke="#8a8a8a" stroke-width="1.0"/>
<path d="M121.00 285.50 L122.90 287.40 L121.00 289.30 L119.10 287.40 Z" fill="#fff" stroke="#8a8a8a" stroke-width="1.0"/>
<path d="M116.40 292.40 L118.30 294.30 L116.40 296.20 L114.50 294.30 Z" fill="#fff" stroke="#8a8a8a" stroke-width="1.0"/>
<path d="M119.90 290.70 L121.80 292.60 L119.90 294.50 L118.00 292.60 Z" fill="#fff" stroke="#8a8a8a" stroke-width="1.0"/>
<path d="M121.60 294.10 L123.50 296.00 L121.60 297.90 L119.70 296.00 Z" fill="#fff" stroke="#8a8a8a" stroke-width="1.0"/>
<path d="M122.70 296.40 L124.60 298.30 L122.70 300.20 L120.80 298.30 Z" fill="#fff" stroke="#8a8a8a" stroke-width="1.0"/>
<path d="M122.10 299.20 L124.00 301.10 L122.10 303.00 L120.20 301.10 Z" fill="#fff" stroke="#8a8a8a" stroke-width="1.0"/>
<path d="M123.90 301.50 L125.80 303.40 L123.90 305.30 L122.00 303.40 Z" fill="#fff" stroke="#8a8a8a" stroke-width="1.0"/>
<path d="M125.60 303.20 L127.50 305.10 L125.60 307.00 L123.70 305.10 Z" fill="#fff" stroke="#8a8a8a" stroke-width="1.0"/>
<path d="M127.30 305.00 L129.20 306.90 L127.30 308.80 L125.40 306.90 Z" fill="#fff" stroke="#8a8a8a" stroke-width="1.0"/>
<path d="M131.30 311.80 L133.20 313.70 L131.30 315.60 L129.40 313.70 Z" fill="#fff" stroke="#8a8a8a" stroke-width="1.0"/>
<path d="M142.70 318.10 L144.60 320.00 L142.70 321.90 L140.80 320.00 Z" fill="#fff" stroke="#8a8a8a" stroke-width="1.0"/>
<path d="M154.00 315.90 L155.90 317.80 L154.00 319.70 L152.10 317.80 Z" fill="#fff" stroke="#8a8a8a" stroke-width="1.0"/>
<circle cx="110.00" cy="322.00" r="1.60" fill="#000"/>
<circle cx="110.30" cy="319.50" r="1.60" fill="#000"/>
<circle cx="110.38" cy="317.00" r="1.60" fill="#000"/>
<circle cx="111.52" cy="314.50" r="1.60" fill="#000"/>
<circle cx="111.50" cy="312.00" r="1.60" fill="#000"/>
<circle cx="111.26" cy="309.50" r="1.60" fill="#000"/>
<circle cx="113.05" cy="307.00" r="1.60" fill="#000"/>
<circle cx="112.70" cy="304.50" r="1.60" fill="#000"/>
<circle cx="112.14" cy="302.00" r="1.60" fill="#000"/>
<circle cx="114.57" cy="299.50" r="1.60" fill="#000"/>
<circle cx="113.90" cy="297.00" r="1.60" fill="#000"/>
<circle cx="113.02" cy="294.50" r="1.60" fill="#000"/>
<circle cx="116.09" cy="292.00" r="1.60" fill="#000"/>
<circle cx="115.10" cy="289.50" r="1.60" fill="#000"/>
<circle cx="113.60" cy="292.00" r="1.70" fill="#000"/>
<circle cx="114.20" cy="297.00" r="1.70" fill="#000"/>
<circle cx="112.60" cy="303.00" r="1.70" fill="#000"/>
<circle cx="112.00" cy="309.00" r="1.70" fill="#000"/>
<circle cx="114.70" cy="302.30" r="1.70" fill="#000"/>
<circle cx="113.60" cy="306.90" r="1.70" fill="#000"/>
<circle cx="112.40" cy="311.40" r="1.70" fill="#000"/>
<circle cx="111.90" cy="314.90" r="1.70" fill="#000"/>
<circle cx="115.30" cy="297.70" r="1.70" fill="#000"/>
<circle cx="115.70" cy="293.50" r="1.70" fill="#000"/>
<circle cx="111.20" cy="318.00" r="1.70" fill="#000"/>
<circle cx="148.27" cy="236.27" r="1.75" fill="#000"/>
<circle cx="148.85" cy="242.42" r="1.75" fill="#000"/>
<circle cx="154.04" cy="241.08" r="1.75" fill="#000"/>
<circle cx="154.04" cy="245.31" r="1.75" fill="#000"/>
<circle cx="136.73" cy="248.77" r="1.75" fill="#000"/>
<circle cx="136.73" cy="251.08" r="1.75" fill="#000"/>
<circle cx="131.92" cy="257.81" r="1.75" fill="#000"/>
<circle cx="131.92" cy="263.19" r="1.75" fill="#000"/>
<circle cx="126.15" cy="263.58" r="1.75" fill="#000"/>
<circle cx="137.30" cy="264.00" r="1.45" fill="#fff" stroke="#000" stroke-width="1.1"/>
<circle cx="137.30" cy="268.80" r="1.45" fill="#fff" stroke="#000" stroke-width="1.1"/>
<circle cx="148.40" cy="288.60" r="1.45" fill="#fff" stroke="#000" stroke-width="1.1"/>
<circle cx="148.40" cy="293.70" r="1.45" fill="#fff" stroke="#000" stroke-width="1.1"/>
<circle cx="148.40" cy="296.00" r="1.45" fill="#fff" stroke="#000" stroke-width="1.1"/>
<circle cx="159.60" cy="302.20" r="1.45" fill="#fff" stroke="#000" stroke-width="1.1"/>
<circle cx="159.60" cy="304.50" r="1.45" fill="#fff" stroke="#000" stroke-width="1.1"/>
<circle cx="176.90" cy="310.70" r="1.45" fill="#fff" stroke="#000" stroke-width="1.1"/>
<circle cx="176.90" cy="313.20" r="1.45" fill="#fff" stroke="#000" stroke-width="1.1"/>
<circle cx="199.00" cy="314.70" r="1.45" fill="#fff" stroke="#000" stroke-width="1.1"/>
<circle cx="199.00" cy="317.00" r="1.45" fill="#fff" stroke="#000" stroke-width="1.1"/>
<circle cx="232.30" cy="319.90" r="1.45" fill="#fff" stroke="#000" stroke-width="1.1"/>
<circle cx="232.30" cy="323.40" r="1.45" fill="#fff" stroke="#000" stroke-width="1.1"/>
<path d="M163.30 257.20 L165.00 260.51 L161.60 260.51 Z" fill="#fff" stroke="#000" stroke-width="1.0" stroke-linejoin="miter"/>
<path d="M171.30 278.90 L173.00 282.22 L169.60 282.22 Z" fill="#fff" stroke="#000" stroke-width="1.0" stroke-linejoin="miter"/>
<path d="M182.30 290.90 L184.00 294.22 L180.60 294.22 Z" fill="#fff" stroke="#000" stroke-width="1.0" stroke-linejoin="miter"/>
<path d="M199.00 297.50 L200.70 300.81 L197.30 300.81 Z" fill="#fff" stroke="#000" stroke-width="1.0" stroke-linejoin="miter"/>
<path d="M221.20 311.10 L222.90 314.42 L219.50 314.42 Z" fill="#fff" stroke="#000" stroke-width="1.0" stroke-linejoin="miter"/>
<path d="M254.60 315.70 L256.30 319.01 L252.90 319.01 Z" fill="#fff" stroke="#000" stroke-width="1.0" stroke-linejoin="miter"/>
<path d="M322.70 323.50 C323.00 321.83 323.85 316.50 324.50 313.50 C325.15 310.50 325.85 307.88 326.60 305.50 C327.35 303.12 328.17 300.98 329.00 299.20 C329.83 297.42 330.50 296.50 331.60 294.80 C332.70 293.10 334.10 291.47 335.60 289.00 C337.10 286.53 338.88 282.92 340.60 280.00 C342.32 277.08 344.17 274.02 345.90 271.50 C347.63 268.98 349.27 267.02 351.00 264.90 C352.73 262.78 354.52 260.72 356.30 258.80 C358.08 256.88 360.08 254.97 361.70 253.40 C363.32 251.83 364.92 250.30 366.00 249.40 C367.08 248.50 367.47 248.23 368.20 248.00 C368.93 247.77 369.67 247.63 370.40 248.00 C371.13 248.37 371.83 249.08 372.60 250.20 C373.37 251.32 373.93 252.73 375.00 254.70 C376.07 256.67 377.67 259.63 379.00 262.00 C380.33 264.37 381.37 266.30 383.00 268.90 C384.63 271.50 386.70 274.70 388.80 277.60 C390.90 280.50 393.35 283.73 395.60 286.30 C397.85 288.87 399.90 290.77 402.30 293.00 C404.70 295.23 407.43 297.72 410.00 299.70 C412.57 301.68 414.82 303.20 417.70 304.90 C420.58 306.60 424.10 308.45 427.30 309.90 C430.50 311.35 433.70 312.53 436.90 313.60 C440.10 314.67 442.65 315.42 446.50 316.30 C450.35 317.18 455.75 318.22 460.00 318.90 C464.25 319.58 467.90 319.98 472.00 320.40 C476.10 320.82 482.50 321.23 484.60 321.40" fill="none" stroke="#000" stroke-width="1.70" stroke-linejoin="round" stroke-linecap="round"/>
<path d="M326.60 305.50 C327.00 304.45 328.27 301.12 329.00 299.20 C329.73 297.28 330.10 296.00 331.00 294.00 C331.90 292.00 333.13 289.75 334.40 287.20 C335.67 284.65 337.33 281.48 338.60 278.70 C339.87 275.92 341.03 272.78 342.00 270.50 C342.97 268.22 343.70 266.32 344.40 265.00 C345.10 263.68 345.57 263.07 346.20 262.60 C346.83 262.13 347.50 262.03 348.20 262.20 C348.90 262.37 349.27 262.52 350.40 263.60 C351.53 264.68 353.35 266.85 355.00 268.70 C356.65 270.55 358.52 272.82 360.30 274.70 C362.08 276.58 363.70 278.12 365.70 280.00 C367.70 281.88 370.08 284.12 372.30 286.00 C374.52 287.88 377.20 289.88 379.00 291.30 C380.80 292.72 381.13 293.17 383.10 294.50 C385.07 295.83 388.23 297.78 390.80 299.30 C393.37 300.82 395.62 302.15 398.50 303.60 C401.38 305.05 404.90 306.72 408.10 308.00 C411.30 309.28 414.50 310.30 417.70 311.30 C420.90 312.30 424.10 313.22 427.30 314.00 C430.50 314.78 433.70 315.42 436.90 316.00 C440.10 316.58 442.65 316.97 446.50 317.50 C450.35 318.03 455.75 318.70 460.00 319.20 C464.25 319.70 467.90 320.12 472.00 320.50 C476.10 320.88 482.50 321.33 484.60 321.50" fill="none" stroke="#000" stroke-width="1.70" stroke-linejoin="round" stroke-linecap="round"/>
<path d="M326.60 305.50 C327.00 304.45 328.27 300.42 329.00 299.20 C329.73 297.98 330.33 298.20 331.00 298.20 C331.67 298.20 332.33 298.63 333.00 299.20 C333.67 299.77 333.78 300.38 335.00 301.60 C336.22 302.82 338.52 304.93 340.30 306.50 C342.08 308.07 343.92 309.62 345.70 311.00 C347.48 312.38 349.20 313.75 351.00 314.80 C352.80 315.85 355.00 316.70 356.50 317.30 C358.00 317.90 357.82 317.83 360.00 318.40 C362.18 318.97 365.75 320.03 369.60 320.70 C373.45 321.37 378.03 321.98 383.10 322.40 C388.17 322.82 397.18 323.07 400.00 323.20" fill="none" stroke="#000" stroke-width="1.70" stroke-linejoin="round" stroke-linecap="round"/>
<path d="M345.40 302.10 L347.30 304.00 L345.40 305.90 L343.50 304.00 Z" fill="#fff" stroke="#8a8a8a" stroke-width="1.0"/>
<path d="M332.90 305.00 L334.80 306.90 L332.90 308.80 L331.00 306.90 Z" fill="#fff" stroke="#8a8a8a" stroke-width="1.0"/>
<path d="M336.30 305.50 L338.20 307.40 L336.30 309.30 L334.40 307.40 Z" fill="#fff" stroke="#8a8a8a" stroke-width="1.0"/>
<path d="M340.90 307.20 L342.80 309.10 L340.90 311.00 L339.00 309.10 Z" fill="#fff" stroke="#8a8a8a" stroke-width="1.0"/>
<path d="M345.40 312.40 L347.30 314.30 L345.40 316.20 L343.50 314.30 Z" fill="#fff" stroke="#8a8a8a" stroke-width="1.0"/>
<path d="M335.70 314.10 L337.60 316.00 L335.70 317.90 L333.80 316.00 Z" fill="#fff" stroke="#8a8a8a" stroke-width="1.0"/>
<path d="M356.50 314.60 L358.40 316.50 L356.50 318.40 L354.60 316.50 Z" fill="#fff" stroke="#8a8a8a" stroke-width="1.0"/>
<path d="M330.00 297.60 L331.90 299.50 L330.00 301.40 L328.10 299.50 Z" fill="#fff" stroke="#8a8a8a" stroke-width="1.0"/>
<path d="M333.50 300.60 L335.40 302.50 L333.50 304.40 L331.60 302.50 Z" fill="#fff" stroke="#8a8a8a" stroke-width="1.0"/>
<circle cx="330.60" cy="292.60" r="1.45" fill="#fff" stroke="#888" stroke-width="1.1"/>
<circle cx="334.00" cy="294.90" r="1.45" fill="#fff" stroke="#888" stroke-width="1.1"/>
<circle cx="332.00" cy="296.50" r="1.45" fill="#fff" stroke="#888" stroke-width="1.1"/>
<circle cx="322.90" cy="322.00" r="1.60" fill="#000"/>
<circle cx="323.02" cy="319.70" r="1.60" fill="#000"/>
<circle cx="322.80" cy="317.40" r="1.60" fill="#000"/>
<circle cx="324.07" cy="315.10" r="1.60" fill="#000"/>
<circle cx="323.68" cy="312.80" r="1.60" fill="#000"/>
<circle cx="322.95" cy="310.50" r="1.60" fill="#000"/>
<circle cx="325.24" cy="308.20" r="1.60" fill="#000"/>
<circle cx="324.34" cy="305.90" r="1.60" fill="#000"/>
<circle cx="323.10" cy="303.60" r="1.60" fill="#000"/>
<circle cx="326.41" cy="301.30" r="1.60" fill="#000"/>
<circle cx="325.00" cy="299.00" r="1.60" fill="#000"/>
<circle cx="326.60" cy="298.30" r="1.70" fill="#000"/>
<circle cx="324.50" cy="311.00" r="1.70" fill="#000"/>
<circle cx="325.50" cy="306.00" r="1.70" fill="#000"/>
<circle cx="327.50" cy="309.00" r="1.70" fill="#000"/>
<circle cx="326.80" cy="314.00" r="1.70" fill="#000"/>
<circle cx="327.70" cy="313.70" r="1.70" fill="#000"/>
<circle cx="328.30" cy="309.10" r="1.70" fill="#000"/>
<circle cx="327.70" cy="304.60" r="1.70" fill="#000"/>
<circle cx="326.00" cy="311.40" r="1.70" fill="#000"/>
<circle cx="324.90" cy="316.00" r="1.70" fill="#000"/>
<circle cx="323.90" cy="319.40" r="1.70" fill="#000"/>
<circle cx="362.62" cy="252.04" r="1.75" fill="#000"/>
<circle cx="362.62" cy="254.92" r="1.75" fill="#000"/>
<circle cx="362.62" cy="257.23" r="1.75" fill="#000"/>
<circle cx="368.00" cy="253.00" r="1.75" fill="#000"/>
<circle cx="368.00" cy="254.92" r="1.75" fill="#000"/>
<circle cx="368.00" cy="256.85" r="1.75" fill="#000"/>
<circle cx="339.54" cy="266.46" r="1.75" fill="#000"/>
<circle cx="345.31" cy="272.62" r="1.75" fill="#000"/>
<circle cx="345.31" cy="275.12" r="1.75" fill="#000"/>
<circle cx="350.69" cy="269.35" r="1.75" fill="#000"/>
<circle cx="350.69" cy="278.96" r="1.75" fill="#000"/>
<circle cx="333.77" cy="285.69" r="1.75" fill="#000"/>
<circle cx="351.08" cy="272.62" r="1.45" fill="#fff" stroke="#000" stroke-width="1.1"/>
<circle cx="351.08" cy="274.15" r="1.45" fill="#fff" stroke="#000" stroke-width="1.1"/>
<circle cx="351.08" cy="283.77" r="1.45" fill="#fff" stroke="#000" stroke-width="1.1"/>
<circle cx="362.62" cy="277.42" r="1.45" fill="#fff" stroke="#000" stroke-width="1.1"/>
<circle cx="362.62" cy="283.77" r="1.45" fill="#fff" stroke="#000" stroke-width="1.1"/>
<circle cx="373.77" cy="279.92" r="1.45" fill="#fff" stroke="#000" stroke-width="1.1"/>
<circle cx="373.77" cy="282.81" r="1.45" fill="#fff" stroke="#000" stroke-width="1.1"/>
<circle cx="373.77" cy="294.92" r="1.45" fill="#fff" stroke="#000" stroke-width="1.1"/>
<circle cx="390.69" cy="295.69" r="1.45" fill="#fff" stroke="#000" stroke-width="1.1"/>
<circle cx="390.69" cy="298.19" r="1.45" fill="#fff" stroke="#000" stroke-width="1.1"/>
<circle cx="390.69" cy="301.08" r="1.45" fill="#fff" stroke="#000" stroke-width="1.1"/>
<circle cx="412.81" cy="306.46" r="1.45" fill="#fff" stroke="#000" stroke-width="1.1"/>
<circle cx="412.81" cy="308.77" r="1.45" fill="#fff" stroke="#000" stroke-width="1.1"/>
<circle cx="412.81" cy="311.08" r="1.45" fill="#fff" stroke="#000" stroke-width="1.1"/>
<circle cx="368.00" cy="313.96" r="1.45" fill="#fff" stroke="#777" stroke-width="1.1"/>
<circle cx="368.00" cy="316.85" r="1.45" fill="#fff" stroke="#777" stroke-width="1.1"/>
<circle cx="412.88" cy="306.85" r="1.45" fill="#fff" stroke="#000" stroke-width="1.1"/>
<circle cx="412.88" cy="310.31" r="1.45" fill="#fff" stroke="#000" stroke-width="1.1"/>
<circle cx="446.73" cy="316.85" r="1.45" fill="#fff" stroke="#000" stroke-width="1.1"/>
<path d="M384.73 270.92 L386.43 274.23 L383.03 274.23 Z" fill="#fff" stroke="#000" stroke-width="1.0" stroke-linejoin="miter"/>
<path d="M395.88 283.61 L397.58 286.92 L394.18 286.92 Z" fill="#fff" stroke="#000" stroke-width="1.0" stroke-linejoin="miter"/>
<path d="M412.81 293.22 L414.51 296.54 L411.11 296.54 Z" fill="#fff" stroke="#000" stroke-width="1.0" stroke-linejoin="miter"/>
<path d="M377.62 291.60 L379.02 294.33 L376.22 294.33 Z" fill="#fff" stroke="#000" stroke-width="1.0" stroke-linejoin="miter"/>
<path d="M412.88 293.22 L414.58 296.54 L411.18 296.54 Z" fill="#fff" stroke="#000" stroke-width="1.0" stroke-linejoin="miter"/>
<path d="M435.58 298.42 L437.28 301.73 L433.88 301.73 Z" fill="#fff" stroke="#000" stroke-width="1.0" stroke-linejoin="miter"/>
<path d="M469.62 309.38 L471.32 312.69 L467.92 312.69 Z" fill="#fff" stroke="#000" stroke-width="1.0" stroke-linejoin="miter"/>
<path d="M110.80 487.10 C110.93 484.92 111.17 478.02 111.60 474.00 C112.03 469.98 112.73 466.25 113.40 463.00 C114.07 459.75 114.82 457.05 115.60 454.50 C116.38 451.95 117.37 450.12 118.10 447.70 C118.83 445.28 119.02 443.02 120.00 440.00 C120.98 436.98 122.67 432.52 124.00 429.60 C125.33 426.68 126.33 424.87 128.00 422.50 C129.67 420.13 132.00 417.60 134.00 415.40 C136.00 413.20 137.88 411.33 140.00 409.30 C142.12 407.27 144.48 405.13 146.70 403.20 C148.92 401.27 151.75 398.98 153.30 397.70 C154.85 396.42 155.37 395.97 156.00 395.50 C156.63 395.03 156.92 395.00 157.10 394.90 L158.70 400.50 C159.03 401.92 159.93 406.03 160.70 409.00 C161.47 411.97 162.30 415.18 163.30 418.30 C164.30 421.42 165.47 424.70 166.70 427.70 C167.93 430.70 169.27 433.53 170.70 436.30 C172.13 439.07 173.62 441.62 175.30 444.30 C176.98 446.98 178.60 449.65 180.80 452.40 C183.00 455.15 185.62 458.27 188.50 460.80 C191.38 463.33 194.90 465.67 198.10 467.60 C201.30 469.53 204.50 470.97 207.70 472.40 C210.90 473.83 214.10 475.08 217.30 476.20 C220.50 477.32 223.70 478.30 226.90 479.10 C230.10 479.90 232.65 480.35 236.50 481.00 C240.35 481.65 245.75 482.47 250.00 483.00 C254.25 483.53 257.93 483.83 262.00 484.20 C266.07 484.57 272.33 485.03 274.40 485.20" fill="none" stroke="#000" stroke-width="1.70" stroke-linejoin="round" stroke-linecap="round"/>
<path d="M134.00 415.40 C134.33 416.55 135.33 419.82 136.00 422.30 C136.67 424.78 137.22 427.63 138.00 430.30 C138.78 432.97 139.82 435.85 140.70 438.30 C141.58 440.75 142.30 442.77 143.30 445.00 C144.30 447.23 145.58 449.70 146.70 451.70 C147.82 453.70 148.48 455.15 150.00 457.00 C151.52 458.85 153.55 460.88 155.80 462.80 C158.05 464.72 160.93 466.90 163.50 468.50 C166.07 470.10 168.65 471.27 171.20 472.40 C173.75 473.53 175.92 474.33 178.80 475.30 C181.68 476.27 184.97 477.30 188.50 478.20 C192.03 479.10 195.83 479.93 200.00 480.70 C204.17 481.47 209.02 482.22 213.50 482.80 C217.98 483.38 220.82 483.73 226.90 484.20 C232.98 484.67 242.08 485.25 250.00 485.60 C257.92 485.95 270.33 486.18 274.40 486.30" fill="none" stroke="#000" stroke-width="1.70" stroke-linejoin="round" stroke-linecap="round"/>
<path d="M118.10 447.70 C118.25 448.40 118.53 450.08 119.00 451.90 C119.47 453.72 120.02 456.35 120.90 458.60 C121.78 460.85 122.97 463.32 124.30 465.40 C125.63 467.48 127.18 469.38 128.90 471.10 C130.62 472.82 132.75 474.60 134.60 475.70 C136.45 476.80 138.10 477.12 140.00 477.70 C141.90 478.28 144.00 478.77 146.00 479.20 C148.00 479.63 150.05 479.97 152.00 480.30 C153.95 480.63 154.83 480.75 157.70 481.20 C160.57 481.65 164.72 482.38 169.20 483.00 C173.68 483.62 178.18 484.37 184.60 484.90 C191.02 485.43 200.13 485.88 207.70 486.20 C215.27 486.52 226.28 486.70 230.00 486.80" fill="none" stroke="#000" stroke-width="1.70" stroke-linejoin="round" stroke-linecap="round"/>
<path d="M120.90 432.10 L122.80 434.00 L120.90 435.90 L119.00 434.00 Z" fill="#fff" stroke="#8a8a8a" stroke-width="1.0"/>
<path d="M118.80 440.10 L120.70 442.00 L118.80 443.90 L116.90 442.00 Z" fill="#fff" stroke="#8a8a8a" stroke-width="1.0"/>
<path d="M120.30 442.40 L122.20 444.30 L120.30 446.20 L118.40 444.30 Z" fill="#fff" stroke="#8a8a8a" stroke-width="1.0"/>
<path d="M120.90 445.20 L122.80 447.10 L120.90 449.00 L119.00 447.10 Z" fill="#fff" stroke="#8a8a8a" stroke-width="1.0"/>
<path d="M122.60 448.10 L124.50 450.00 L122.60 451.90 L120.70 450.00 Z" fill="#fff" stroke="#8a8a8a" stroke-width="1.0"/>
<path d="M117.40 455.00 L119.30 456.90 L117.40 458.80 L115.50 456.90 Z" fill="#fff" stroke="#8a8a8a" stroke-width="1.0"/>
<path d="M122.00 452.70 L123.90 454.60 L122.00 456.50 L120.10 454.60 Z" fill="#fff" stroke="#8a8a8a" stroke-width="1.0"/>
<path d="M123.10 456.10 L125.00 458.00 L123.10 459.90 L121.20 458.00 Z" fill="#fff" stroke="#8a8a8a" stroke-width="1.0"/>
<path d="M124.30 459.00 L126.20 460.90 L124.30 462.80 L122.40 460.90 Z" fill="#fff" stroke="#8a8a8a" stroke-width="1.0"/>
<path d="M123.10 461.20 L125.00 463.10 L123.10 465.00 L121.20 463.10 Z" fill="#fff" stroke="#8a8a8a" stroke-width="1.0"/>
<path d="M126.00 462.40 L127.90 464.30 L126.00 466.20 L124.10 464.30 Z" fill="#fff" stroke="#8a8a8a" stroke-width="1.0"/>
<path d="M127.10 465.20 L129.00 467.10 L127.10 469.00 L125.20 467.10 Z" fill="#fff" stroke="#8a8a8a" stroke-width="1.0"/>
<path d="M129.40 467.00 L131.30 468.90 L129.40 470.80 L127.50 468.90 Z" fill="#fff" stroke="#8a8a8a" stroke-width="1.0"/>
<path d="M133.40 474.40 L135.30 476.30 L133.40 478.20 L131.50 476.30 Z" fill="#fff" stroke="#8a8a8a" stroke-width="1.0"/>
<path d="M144.90 480.90 L146.80 482.80 L144.90 484.70 L143.00 482.80 Z" fill="#fff" stroke="#8a8a8a" stroke-width="1.0"/>
<path d="M156.50 478.50 L158.40 480.40 L156.50 482.30 L154.60 480.40 Z" fill="#fff" stroke="#8a8a8a" stroke-width="1.0"/>
<circle cx="111.20" cy="484.50" r="1.60" fill="#000"/>
<circle cx="111.45" cy="481.83" r="1.60" fill="#000"/>
<circle cx="111.43" cy="479.17" r="1.60" fill="#000"/>
<circle cx="112.65" cy="476.50" r="1.60" fill="#000"/>
<circle cx="112.50" cy="473.83" r="1.60" fill="#000"/>
<circle cx="112.08" cy="471.17" r="1.60" fill="#000"/>
<circle cx="114.10" cy="468.50" r="1.60" fill="#000"/>
<circle cx="113.55" cy="465.83" r="1.60" fill="#000"/>
<circle cx="112.73" cy="463.17" r="1.60" fill="#000"/>
<circle cx="115.55" cy="460.50" r="1.60" fill="#000"/>
<circle cx="114.60" cy="457.83" r="1.60" fill="#000"/>
<circle cx="113.38" cy="455.17" r="1.60" fill="#000"/>
<circle cx="117.00" cy="452.50" r="1.60" fill="#000"/>
<circle cx="114.50" cy="454.00" r="1.70" fill="#000"/>
<circle cx="115.50" cy="459.00" r="1.70" fill="#000"/>
<circle cx="113.20" cy="470.00" r="1.70" fill="#000"/>
<circle cx="116.40" cy="466.00" r="1.70" fill="#000"/>
<circle cx="115.70" cy="463.30" r="1.70" fill="#000"/>
<circle cx="115.00" cy="469.50" r="1.70" fill="#000"/>
<circle cx="113.40" cy="474.00" r="1.70" fill="#000"/>
<circle cx="112.50" cy="478.50" r="1.70" fill="#000"/>
<circle cx="117.20" cy="453.20" r="1.70" fill="#000"/>
<circle cx="116.60" cy="457.50" r="1.70" fill="#000"/>
<circle cx="150.90" cy="395.90" r="1.75" fill="#000"/>
<circle cx="150.90" cy="403.00" r="1.75" fill="#000"/>
<circle cx="156.70" cy="401.00" r="1.75" fill="#000"/>
<circle cx="156.70" cy="405.70" r="1.75" fill="#000"/>
<circle cx="139.30" cy="409.70" r="1.75" fill="#000"/>
<circle cx="139.30" cy="412.30" r="1.75" fill="#000"/>
<circle cx="133.70" cy="413.40" r="1.75" fill="#000"/>
<circle cx="133.70" cy="419.00" r="1.75" fill="#000"/>
<circle cx="133.70" cy="424.00" r="1.75" fill="#000"/>
<circle cx="128.00" cy="425.00" r="1.75" fill="#000"/>
<circle cx="128.00" cy="427.60" r="1.75" fill="#000"/>
<circle cx="122.30" cy="443.50" r="1.75" fill="#000"/>
<circle cx="122.30" cy="446.00" r="1.75" fill="#000"/>
<circle cx="139.70" cy="425.00" r="1.45" fill="#fff" stroke="#000" stroke-width="1.1"/>
<circle cx="139.70" cy="429.70" r="1.45" fill="#fff" stroke="#000" stroke-width="1.1"/>
<circle cx="151.00" cy="450.30" r="1.45" fill="#fff" stroke="#000" stroke-width="1.1"/>
<circle cx="151.00" cy="456.00" r="1.45" fill="#fff" stroke="#000" stroke-width="1.1"/>
<circle cx="151.00" cy="458.20" r="1.45" fill="#fff" stroke="#000" stroke-width="1.1"/>
<circle cx="174.00" cy="442.60" r="1.45" fill="#fff" stroke="#000" stroke-width="1.1"/>
<circle cx="162.50" cy="463.70" r="1.45" fill="#fff" stroke="#000" stroke-width="1.1"/>
<circle cx="162.50" cy="466.20" r="1.45" fill="#fff" stroke="#000" stroke-width="1.1"/>
<circle cx="179.40" cy="473.00" r="1.45" fill="#fff" stroke="#000" stroke-width="1.1"/>
<circle cx="179.40" cy="475.30" r="1.45" fill="#fff" stroke="#000" stroke-width="1.1"/>
<circle cx="202.50" cy="477.20" r="1.45" fill="#fff" stroke="#000" stroke-width="1.1"/>
<circle cx="202.50" cy="479.10" r="1.45" fill="#fff" stroke="#000" stroke-width="1.1"/>
<circle cx="236.90" cy="483.00" r="1.45" fill="#fff" stroke="#000" stroke-width="1.1"/>
<circle cx="236.90" cy="486.20" r="1.45" fill="#fff" stroke="#000" stroke-width="1.1"/>
<path d="M166.00 418.60 L167.70 421.92 L164.30 421.92 Z" fill="#fff" stroke="#000" stroke-width="1.0" stroke-linejoin="miter"/>
<path d="M185.60 452.40 L187.30 455.72 L183.90 455.72 Z" fill="#fff" stroke="#000" stroke-width="1.0" stroke-linejoin="miter"/>
<path d="M202.90 459.70 L204.60 463.01 L201.20 463.01 Z" fill="#fff" stroke="#000" stroke-width="1.0" stroke-linejoin="miter"/>
<path d="M225.40 473.60 L227.10 476.92 L223.70 476.92 Z" fill="#fff" stroke="#000" stroke-width="1.0" stroke-linejoin="miter"/>
<path d="M260.00 478.10 L261.70 481.42 L258.30 481.42 Z" fill="#fff" stroke="#000" stroke-width="1.0" stroke-linejoin="miter"/>
<path d="M327.00 487.10 C327.20 485.42 327.77 479.93 328.20 477.00 C328.63 474.07 329.03 471.78 329.60 469.50 C330.17 467.22 330.63 465.42 331.60 463.30 C332.57 461.18 334.00 458.90 335.40 456.80 C336.80 454.70 338.35 453.05 340.00 450.70 C341.65 448.35 343.63 445.27 345.30 442.70 C346.97 440.13 348.43 437.63 350.00 435.30 C351.57 432.97 353.03 430.92 354.70 428.70 C356.37 426.48 358.00 424.23 360.00 422.00 C362.00 419.77 364.82 417.08 366.70 415.30 C368.58 413.52 370.23 412.12 371.30 411.30 C372.37 410.48 372.80 410.55 373.10 410.40 L376.00 416.00 C376.67 417.37 378.58 421.73 380.00 424.20 C381.42 426.67 382.77 428.62 384.50 430.80 C386.23 432.98 388.07 435.02 390.40 437.30 C392.73 439.58 395.55 442.18 398.50 444.50 C401.45 446.82 404.90 449.05 408.10 451.20 C411.30 453.35 414.50 455.47 417.70 457.40 C420.90 459.33 424.10 461.10 427.30 462.80 C430.50 464.50 433.70 466.17 436.90 467.60 C440.10 469.03 442.65 470.00 446.50 471.40 C450.35 472.80 455.25 474.63 460.00 476.00 C464.75 477.37 469.93 478.60 475.00 479.60 C480.07 480.60 487.83 481.60 490.40 482.00" fill="none" stroke="#000" stroke-width="1.70" stroke-linejoin="round" stroke-linecap="round"/>
<path d="M350.00 435.30 C350.55 436.08 352.08 438.22 353.30 440.00 C354.52 441.78 355.73 444.00 357.30 446.00 C358.87 448.00 360.92 450.33 362.70 452.00 C364.48 453.67 366.00 454.68 368.00 456.00 C370.00 457.32 372.25 458.60 374.70 459.90 C377.15 461.20 379.38 462.27 382.70 463.80 C386.02 465.33 391.02 467.67 394.60 469.10 C398.18 470.53 401.00 471.38 404.20 472.40 C407.40 473.42 410.27 474.30 413.80 475.20 C417.33 476.10 421.55 477.03 425.40 477.80 C429.25 478.57 433.05 479.20 436.90 479.80 C440.75 480.40 444.65 480.93 448.50 481.40 C452.35 481.87 455.58 482.20 460.00 482.60 C464.42 483.00 469.93 483.43 475.00 483.80 C480.07 484.17 487.83 484.63 490.40 484.80" fill="none" stroke="#000" stroke-width="1.70" stroke-linejoin="round" stroke-linecap="round"/>
<path d="M331.60 463.30 C331.92 463.50 332.77 463.78 333.50 464.50 C334.23 465.22 334.92 466.47 336.00 467.60 C337.08 468.73 338.50 470.20 340.00 471.30 C341.50 472.40 343.00 473.38 345.00 474.20 C347.00 475.02 349.50 475.67 352.00 476.20 C354.50 476.73 357.07 476.92 360.00 477.40 C362.93 477.88 366.40 478.55 369.60 479.10 C372.80 479.65 375.67 480.15 379.20 480.70 C382.73 481.25 385.98 481.80 390.80 482.40 C395.62 483.00 402.02 483.77 408.10 484.30 C414.18 484.83 418.65 485.25 427.30 485.60 C435.95 485.95 449.48 486.20 460.00 486.40 C470.52 486.60 485.33 486.73 490.40 486.80" fill="none" stroke="#000" stroke-width="1.70" stroke-linejoin="round" stroke-linecap="round"/>
<path d="M336.30 461.80 L338.20 463.70 L336.30 465.60 L334.40 463.70 Z" fill="#fff" stroke="#8a8a8a" stroke-width="1.0"/>
<path d="M339.10 464.70 L341.00 466.60 L339.10 468.50 L337.20 466.60 Z" fill="#fff" stroke="#8a8a8a" stroke-width="1.0"/>
<path d="M350.00 465.20 L351.90 467.10 L350.00 469.00 L348.10 467.10 Z" fill="#fff" stroke="#8a8a8a" stroke-width="1.0"/>
<path d="M336.90 468.10 L338.80 470.00 L336.90 471.90 L335.00 470.00 Z" fill="#fff" stroke="#8a8a8a" stroke-width="1.0"/>
<path d="M340.30 468.70 L342.20 470.60 L340.30 472.50 L338.40 470.60 Z" fill="#fff" stroke="#8a8a8a" stroke-width="1.0"/>
<path d="M343.10 468.70 L345.00 470.60 L343.10 472.50 L341.20 470.60 Z" fill="#fff" stroke="#8a8a8a" stroke-width="1.0"/>
<path d="M345.40 471.00 L347.30 472.90 L345.40 474.80 L343.50 472.90 Z" fill="#fff" stroke="#8a8a8a" stroke-width="1.0"/>
<path d="M350.00 476.10 L351.90 478.00 L350.00 479.90 L348.10 478.00 Z" fill="#fff" stroke="#8a8a8a" stroke-width="1.0"/>
<path d="M361.40 477.80 L363.30 479.70 L361.40 481.60 L359.50 479.70 Z" fill="#fff" stroke="#8a8a8a" stroke-width="1.0"/>
<path d="M372.80 475.60 L374.70 477.50 L372.80 479.40 L370.90 477.50 Z" fill="#fff" stroke="#8a8a8a" stroke-width="1.0"/>
<path d="M372.80 480.10 L374.70 482.00 L372.80 483.90 L370.90 482.00 Z" fill="#fff" stroke="#8a8a8a" stroke-width="1.0"/>
<circle cx="335.10" cy="455.10" r="1.45" fill="#fff" stroke="#888" stroke-width="1.1"/>
<circle cx="338.60" cy="457.40" r="1.45" fill="#fff" stroke="#888" stroke-width="1.1"/>
<circle cx="340.00" cy="479.70" r="1.45" fill="#fff" stroke="#888" stroke-width="1.1"/>
<circle cx="327.30" cy="484.50" r="1.60" fill="#000"/>
<circle cx="327.44" cy="482.17" r="1.60" fill="#000"/>
<circle cx="327.21" cy="479.83" r="1.60" fill="#000"/>
<circle cx="328.60" cy="477.50" r="1.60" fill="#000"/>
<circle cx="328.18" cy="475.17" r="1.60" fill="#000"/>
<circle cx="327.38" cy="472.83" r="1.60" fill="#000"/>
<circle cx="329.90" cy="470.50" r="1.60" fill="#000"/>
<circle cx="328.91" cy="468.17" r="1.60" fill="#000"/>
<circle cx="327.54" cy="465.83" r="1.60" fill="#000"/>
<circle cx="331.20" cy="463.50" r="1.60" fill="#000"/>
<circle cx="330.60" cy="462.00" r="1.70" fill="#000"/>
<circle cx="329.20" cy="474.00" r="1.70" fill="#000"/>
<circle cx="331.80" cy="471.00" r="1.70" fill="#000"/>
<circle cx="330.40" cy="478.00" r="1.70" fill="#000"/>
<circle cx="331.70" cy="475.70" r="1.70" fill="#000"/>
<circle cx="332.30" cy="471.10" r="1.70" fill="#000"/>
<circle cx="331.70" cy="466.60" r="1.70" fill="#000"/>
<circle cx="330.00" cy="473.40" r="1.70" fill="#000"/>
<circle cx="328.90" cy="479.10" r="1.70" fill="#000"/>
<circle cx="344.00" cy="429.30" r="1.75" fill="#000"/>
<circle cx="350.00" cy="435.30" r="1.75" fill="#000"/>
<circle cx="350.00" cy="437.20" r="1.75" fill="#000"/>
<circle cx="367.30" cy="415.30" r="1.75" fill="#000"/>
<circle cx="367.30" cy="417.40" r="1.75" fill="#000"/>
<circle cx="367.30" cy="419.50" r="1.75" fill="#000"/>
<circle cx="372.70" cy="416.40" r="1.75" fill="#000"/>
<circle cx="372.70" cy="418.20" r="1.75" fill="#000"/>
<circle cx="372.70" cy="420.00" r="1.75" fill="#000"/>
<circle cx="338.20" cy="448.90" r="1.75" fill="#000"/>
<circle cx="355.30" cy="442.70" r="1.30" fill="#000"/>
<circle cx="355.30" cy="433.00" r="1.45" fill="#fff" stroke="#000" stroke-width="1.1"/>
<circle cx="355.30" cy="435.00" r="1.45" fill="#fff" stroke="#000" stroke-width="1.1"/>
<circle cx="355.30" cy="437.20" r="1.45" fill="#fff" stroke="#000" stroke-width="1.1"/>
<circle cx="355.30" cy="446.70" r="1.45" fill="#fff" stroke="#000" stroke-width="1.1"/>
<circle cx="367.10" cy="440.10" r="1.45" fill="#fff" stroke="#000" stroke-width="1.1"/>
<circle cx="367.10" cy="447.00" r="1.45" fill="#fff" stroke="#000" stroke-width="1.1"/>
<circle cx="378.30" cy="442.60" r="1.45" fill="#fff" stroke="#000" stroke-width="1.1"/>
<circle cx="378.30" cy="445.80" r="1.45" fill="#fff" stroke="#000" stroke-width="1.1"/>
<circle cx="389.80" cy="434.90" r="1.45" fill="#fff" stroke="#000" stroke-width="1.1"/>
<circle cx="377.90" cy="458.50" r="1.45" fill="#fff" stroke="#000" stroke-width="1.1"/>
<circle cx="395.60" cy="459.90" r="1.45" fill="#fff" stroke="#000" stroke-width="1.1"/>
<circle cx="395.60" cy="462.40" r="1.45" fill="#fff" stroke="#000" stroke-width="1.1"/>
<circle cx="395.60" cy="464.70" r="1.45" fill="#fff" stroke="#000" stroke-width="1.1"/>
<circle cx="418.30" cy="470.10" r="1.45" fill="#fff" stroke="#000" stroke-width="1.1"/>
<circle cx="418.30" cy="472.40" r="1.45" fill="#fff" stroke="#000" stroke-width="1.1"/>
<circle cx="418.30" cy="474.70" r="1.45" fill="#fff" stroke="#000" stroke-width="1.1"/>
<circle cx="452.90" cy="480.10" r="1.45" fill="#fff" stroke="#000" stroke-width="1.1"/>
<path d="M381.50 454.60 L382.90 457.33 L380.10 457.33 Z" fill="#fff" stroke="#000" stroke-width="1.0" stroke-linejoin="miter"/>
<path d="M400.80 447.20 L402.50 450.51 L399.10 450.51 Z" fill="#fff" stroke="#000" stroke-width="1.0" stroke-linejoin="miter"/>
<path d="M418.70 456.80 L420.40 460.12 L417.00 460.12 Z" fill="#fff" stroke="#000" stroke-width="1.0" stroke-linejoin="miter"/>
<path d="M441.70 462.00 L443.40 465.31 L440.00 465.31 Z" fill="#fff" stroke="#000" stroke-width="1.0" stroke-linejoin="miter"/>
<path d="M476.00 472.50 L477.70 475.81 L474.30 475.81 Z" fill="#fff" stroke="#000" stroke-width="1.0" stroke-linejoin="miter"/>
</svg>
</body></html>
